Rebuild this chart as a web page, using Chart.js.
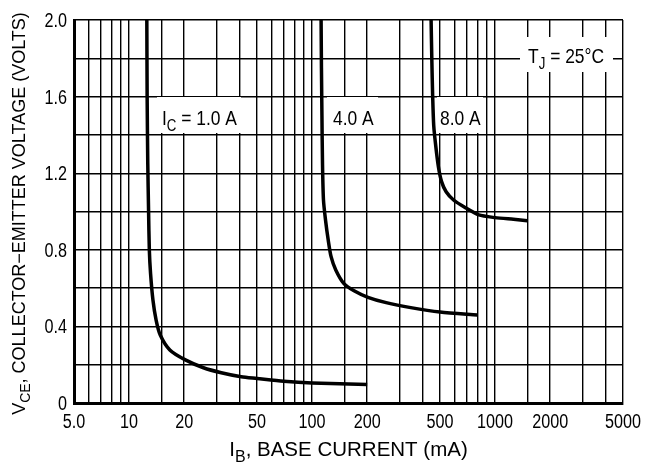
<!DOCTYPE html>
<html>
<head>
<meta charset="utf-8">
<script src="https://cdn.jsdelivr.net/npm/chart.js@4.4.1/dist/chart.umd.min.js"></script>
<style>
  html, body { margin: 0; padding: 0; background: #fff; }
  canvas { display: block; }
</style>
</head>
<body>
<canvas id="vceChart" width="649" height="463"></canvas>
<script>
// x axis (base current, mA) - grid lines and the labelled ones
const ibGrid = [5, 6, 7, 8, 9, 10, 15, 20, 30, 40, 50, 60, 70, 80, 90, 100, 150, 200, 300, 400, 500, 600, 700, 800, 900, 1000, 1500, 2000, 3000, 4000, 5000];
const ibTicks = [5, 10, 20, 50, 100, 200, 500, 1000, 2000, 5000];
const ibTickText = ['5.0', '10', '20', '50', '100', '200', '500', '1000', '2000', '5000'];

// y axis (collector-emitter voltage, V)
const vceGrid = [0, 0.2, 0.4, 0.6, 0.8, 1.0, 1.2, 1.4, 1.6, 1.8, 2.0];
const vceTicks = [0, 0.4, 0.8, 1.2, 1.6, 2.0];
const vceTickText = ['0', '0.4', '0.8', '1.2', '1.6', '2.0'];

// Ic = 1.0 A
const ib1 = [12.5, 12.55, 12.65, 12.78, 12.9, 13.1, 13.5, 14.05, 14.8, 16.7, 20.3, 25.5, 31.9, 41, 50, 70, 100, 200];
const vce1 = [2.0, 1.6, 1.25, 1.0, 0.8, 0.677, 0.538, 0.433, 0.355, 0.277, 0.225, 0.184, 0.158, 0.137, 0.128, 0.113, 0.104, 0.097];

// Ic = 4.0 A
const ib4 = [112, 112.5, 113.2, 114, 115.4, 118.4, 122.5, 127, 134.7, 148.9, 169.5, 202, 254, 346, 500, 800];
const vce4 = [2.0, 1.75, 1.5, 1.25, 1.06, 0.956, 0.851, 0.764, 0.695, 0.625, 0.586, 0.552, 0.524, 0.498, 0.475, 0.46];

// Ic = 8.0 A
const ib8 = [447, 451, 456, 462, 473, 490, 510, 540, 593, 682, 815, 1000, 1260, 1500];
const vce8 = [2.0, 1.8, 1.6, 1.45, 1.35, 1.234, 1.156, 1.103, 1.06, 1.022, 0.982, 0.968, 0.959, 0.952];

const FONT = "'Liberation Sans', Arial, sans-serif";
const NARROW = 0.83;   // the datasheet uses a condensed face

function pts(xs, ys) {
    return xs.map((x, i) => ({ x: x, y: ys[i] }));
}

function curve(xs, ys) {
    return {
        data: pts(xs, ys),
        borderColor: '#000',
        borderWidth: 3.5,
        borderJoinStyle: 'round',
        borderCapStyle: 'butt',
        pointRadius: 0,
        tension: 0.25,
        fill: false
    };
}

// text with subscripts, parts = [[text, isSub], ...], squeezed by sx
function richText(ctx, parts, x, y, size, align, sx) {
    const subSize = Math.round(size * 0.78);
    let total = 0;
    parts.forEach(p => {
        ctx.font = (p[1] ? subSize : size) + 'px ' + FONT;
        total += ctx.measureText(p[0]).width;
    });
    let start = 0;
    if (align === 'center') start = -total / 2;
    if (align === 'right') start = -total;
    ctx.save();
    ctx.translate(x, y);
    ctx.scale(sx, 1);
    ctx.textAlign = 'left';
    ctx.textBaseline = 'alphabetic';
    let cx = start;
    parts.forEach(p => {
        ctx.font = (p[1] ? subSize : size) + 'px ' + FONT;
        ctx.fillText(p[0], cx, p[1] ? size * 0.27 : 0);
        cx += ctx.measureText(p[0]).width;
    });
    ctx.restore();
}

const notes = [
    { parts: [['I', false], ['C', true], [' = 1.0 A', false]], x: 162, y: 125, box: [157, 97, 84, 36] },
    { parts: [['4.0 A', false]], x: 333, y: 125, box: [327, 97, 51, 36] },
    { parts: [['8.0 A', false]], x: 440, y: 125, box: [437, 97, 46, 36] },
    { parts: [['T', false], ['J', true], [' = 25\u00B0C', false]], x: 528, y: 63, box: [520, 37, 93, 35] }
];

const annotate = {
    id: 'annotate',
    beforeDatasetsDraw(chart) {
        const ctx = chart.ctx;
        ctx.save();
        notes.forEach(n => {
            ctx.fillStyle = '#fff';
            ctx.fillRect(n.box[0], n.box[1], n.box[2], n.box[3]);
            ctx.fillStyle = '#000';
            richText(ctx, n.parts, n.x, n.y, 21, 'left', NARROW);
        });
        ctx.restore();
    },
    afterDraw(chart) {
        const ctx = chart.ctx;
        const a = chart.chartArea;
        const xs = chart.scales.x;
        const ys = chart.scales.y;
        ctx.save();
        ctx.fillStyle = '#000';
        // tick labels, placed by the scales
        ibTicks.forEach((v, i) => {
            richText(ctx, [[ibTickText[i], false]], xs.getPixelForValue(v), 428, 19.5, 'center', NARROW);
        });
        vceTicks.forEach((v, i) => {
            richText(ctx, [[vceTickText[i], false]], 67, ys.getPixelForValue(v) + 7, 19.5, 'right', NARROW);
        });
        // x title
        richText(ctx, [['I', false], ['B', true], [', BASE CURRENT (mA)', false]], (a.left + a.right) / 2, 456, 20.5, 'center', 1);
        // y title, rotated
        ctx.translate(25, (a.top + a.bottom) / 2 + 2);
        ctx.rotate(-Math.PI / 2);
        richText(ctx, [['V', false], ['CE', true], [', COLLECTOR\u2212EMITTER VOLTAGE (VOLTS)', false]], 0, 0, 18, 'center', 1);
        ctx.restore();
    }
};

new Chart(document.getElementById('vceChart'), {
    type: 'line',
    data: {
        datasets: [curve(ib1, vce1), curve(ib4, vce4), curve(ib8, vce8)]
    },
    options: {
        responsive: false,
        animation: false,
        layout: { padding: { left: 0, right: 26, top: 20, bottom: 0 } },
        plugins: {
            legend: { display: false },
            tooltip: { enabled: false }
        },
        scales: {
            x: {
                type: 'logarithmic',
                min: 5,
                max: 5000,
                afterBuildTicks: s => { s.ticks = ibGrid.map(v => ({ value: v })); },
                afterFit: s => { s.height = 60; },
                ticks: { display: false, autoSkip: false },
                grid: { color: '#000', lineWidth: 1.4, drawTicks: false },
                border: { color: '#000', width: 3 }
            },
            y: {
                type: 'linear',
                min: 0,
                max: 2.0,
                afterBuildTicks: s => { s.ticks = vceGrid.map(v => ({ value: v })); },
                afterFit: s => { s.width = 74; },
                ticks: { display: false, autoSkip: false },
                grid: { color: '#000', lineWidth: 1.4, drawTicks: false },
                border: { color: '#000', width: 3 }
            }
        }
    },
    plugins: [annotate]
});
</script>
</body>
</html>
